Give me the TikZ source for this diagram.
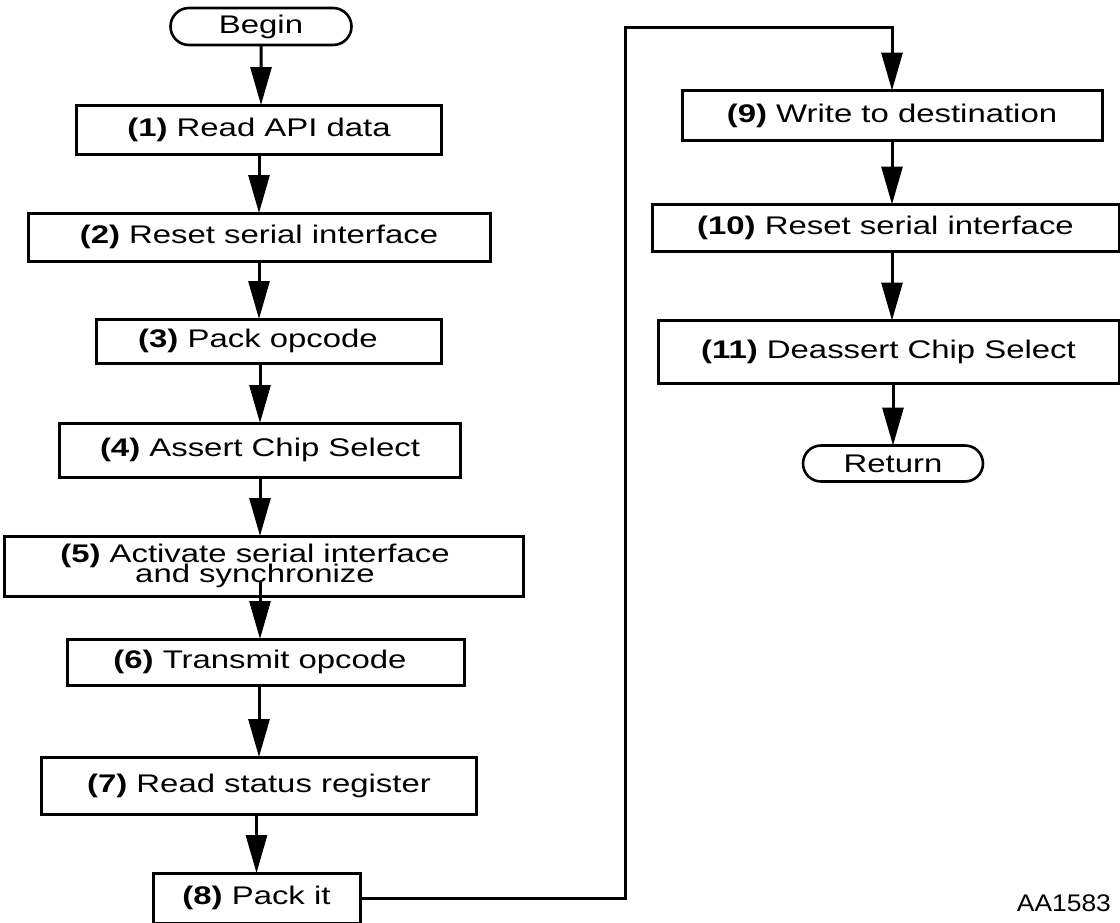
\documentclass[tikz,border=0pt]{standalone}
\usepackage{fontspec}
\setmainfont{Liberation Sans}[FakeStretch=1.29]
\newfontfamily\codefont{Liberation Sans}[FakeStretch=1.1]
\usepackage{tikz}
\usetikzlibrary{shapes.misc,arrows.meta,positioning}
\newcommand{\boxfont}{\fontsize{12.75pt}{10pt}\selectfont\lineskiplimit -20pt\relax}

\begin{document}
\begin{tikzpicture}[x=0.5pt, y=-0.5pt, align=center, node distance=30pt]
    \tikzset{
        n/.style        =   { rectangle
                            , draw=black
                            , line width=1.5pt
                            , inner sep=0pt
                            , outer sep=0pt
                            , text centered
                            , font=\boxfont
        }
        , term/.style   =   { rounded rectangle
                            , draw=black
                            , line width=1.3pt
                            , inner sep=0pt
                            , outer sep=0pt
                            , minimum width=90.5pt
                            , minimum height=18.5pt
                            , font=\boxfont
        }
        , arrow/.style  =   { line width=1.5pt
                            , -{Triangle[length=19pt, width=10.5pt]}
        }
    }
    \useasboundingbox (0,0) rectangle (1120,922);

    % left column
    \node(begin)[term] at (261,26.5) {Begin};
    \node(n1)[n, below=of begin, xshift=-1pt, minimum width=182.5pt, minimum height=24.5pt] {\textbf{(1)} Read API data};
    \node(n2)[n, below=29.5pt of n1, minimum width=231pt, minimum height=24pt] {\textbf{(2)} Reset serial interface};
    \node(n3)[n, below=29pt of n2, xshift=5pt, minimum width=172.5pt, minimum height=22pt] {\textbf{(3)} Pack opcode\hspace*{11pt}};
    \node(n4)[n, below=of n3, xshift=-4.5pt, minimum width=200.5pt, minimum height=27pt] {\textbf{(4)} Assert Chip Select};
    \node(n5)[n, below=29.5pt of n4, xshift=2pt, minimum width=259.5pt, minimum height=30pt] {\textbf{(5)} Activate serial interface\hspace*{9pt}\\ and synchronize\hspace*{9pt}};
    \node(n6)[n, below=21.5pt of n5, xshift=1pt, minimum width=198.5pt, minimum height=23pt] {\textbf{(6)} Transmit opcode\hspace*{6pt}};
    \node(n7)[n, below=36pt of n6, xshift=-3.5pt, minimum width=217.5pt, minimum height=28.5pt] {\textbf{(7)} Read status register};
    \node(n8)[n, below=29.5pt of n7, xshift=-1.25pt, minimum width=103.5pt, minimum height=25pt] {\textbf{(8)} Pack it};

    % right column
    \node(n9)[n, minimum width=210pt, minimum height=25pt] at (892,115.5) {\textbf{(9)} Write to destination};
    \node(n10)[n, below=32pt of n9, xshift=-3.25pt, minimum width=233.5pt, minimum height=23.5pt] {\textbf{(10)} Reset serial interface};
    \node(n11)[n, below=34.5pt of n10, xshift=1.5pt, minimum width=230.5pt, minimum height=31.5pt] {\textbf{(11)} Deassert Chip Select};
    \node(ret)[term, below=31pt of n11, xshift=2.25pt, minimum width=90pt, minimum height=18pt] {Return};

    \node(code)[anchor=east, font=\codefont\fontsize{12pt}{14pt}\selectfont] at (1118,903) {AA1583};
    \coordinate(bend) at (625,27);

    \draw[arrow] (begin) -- (begin |- n1.north);
    \draw[arrow] (n1) -- (n1 |- n2.north);
    \draw[arrow] (n2) -- (n2 |- n3.north);
    \draw[arrow] (n4 |- n3.south) -- (n4);
    \draw[arrow] (n4) -- (n4 |- n5.north);
    \draw[arrow] ([yshift=7pt]n5.south -| n4) -- (n4 |- n6.north);
    \draw[arrow] (n7 |- n6.south) -- (n7);
    \draw[arrow] (n8 |- n7.south) -- (n8);
    \draw[arrow] (n8.east) -| (bend) -| (n9.north);
    \draw[arrow] (n9) -- (n9 |- n10.north);
    \draw[arrow] (n9 |- n10.south) -- (n9 |- n11.north);
    \draw[arrow] (ret |- n11.south) -- (ret);
\end{tikzpicture}
\end{document}
